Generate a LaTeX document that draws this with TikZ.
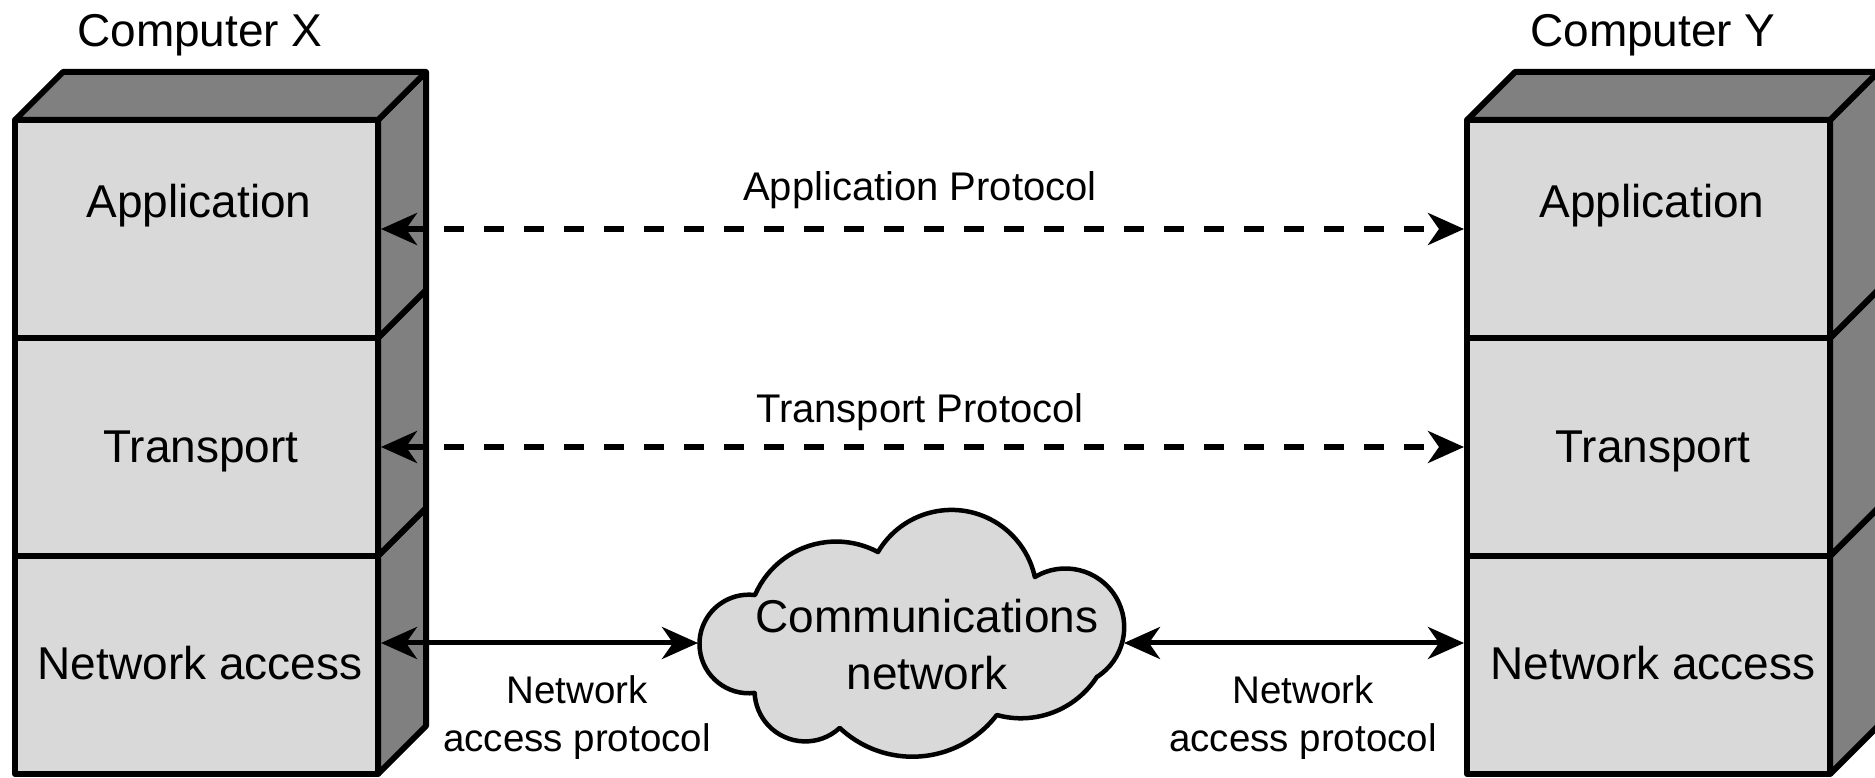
\documentclass[tikz,border=0pt]{standalone}
\usepackage{fontspec}
\setmainfont{Liberation Sans}
\usetikzlibrary{arrows.meta}

\definecolor{facegray}{RGB}{217,217,217}
\definecolor{sidegray}{RGB}{128,128,128}

\tikzset{
  face/.style={draw=black, fill=facegray, line width=6pt, line join=round,
    minimum width=363pt, minimum height=218pt, inner sep=0pt},
  shade3d/.style={draw=black, fill=sidegray, line width=6pt, line join=round},
  cloudline/.style={draw=black, fill=facegray, line width=4.5pt, line join=round},
  bigtext/.style={font=\fontsize{46}{52}\selectfont, anchor=base, inner sep=0pt},
  cloudtext/.style={font=\fontsize{46}{57}\selectfont, align=center, inner sep=0pt},
  protolabel/.style={font=\fontsize{40}{46}\selectfont, anchor=base, inner sep=0pt},
  smalllabel/.style={font=\fontsize{38.5}{48}\selectfont, align=center, inner sep=0pt},
  peer/.style={line width=5.5pt, dash pattern=on 20pt off 20pt, <->},
  link/.style={line width=5pt, <->},
}

% one protocol stack: three layers drawn as boxes seen slightly from above right
% #1 = left x of the front faces, #2 = name prefix
\newcommand{\layerstack}[2]{%
  \pgfmathsetmacro{\xa}{#1}%
  \pgfmathsetmacro{\xb}{#1+363}%
  \pgfmathsetmacro{\xc}{#1+363+48}%
  \foreach \yb/\yt in {3/221, 221/439, 439/657}{%
    \draw[shade3d] (\xb,\yb) -- (\xc,\yb+48) -- (\xc,\yt+48) -- (\xb,\yt) -- cycle;
  }%
  \draw[shade3d] (\xa,657) -- (\xa+48,705) -- (\xc,705) -- (\xb,657) -- cycle;
  \node[face] (#2app) at (\xa+181.5,548) {};
  \node[face] (#2tr)  at (\xa+181.5,330) {};
  \node[face] (#2net) at (\xa+181.5,112) {};
}

\begin{document}
\begin{tikzpicture}[x=1pt, y=1pt,
  >={Stealth[length=36pt, width=32pt, inset=11pt]}]
\useasboundingbox (0,0) rectangle (1875,777);

% the two computers
\layerstack{15}{x}
\layerstack{1467}{y}

\node[bigtext] (compX) at (200,730) {Computer X};
\node[bigtext] (compY) at (1653,730) {Computer Y};

\node[bigtext] (xappT) at (199,559) {Application};
\node[bigtext] (yappT) at (1652,559) {Application};
\node[bigtext] (xtrT)  at (201,314) {Transport};
\node[bigtext] (ytrT)  at (1653,314) {Transport};
\node[bigtext] (xnetT) at (200,97)  {Network access};
\node[bigtext] (ynetT) at (1653,97) {Network access};

% communications network cloud
\draw[cloudline] (755,182)
  arc[start angle=156.7, end angle=61.8,   radius=88.4pt]
  arc[start angle=149.6, end angle=12.3,   radius=85.3pt]
  arc[start angle=121.3, end angle=-57.7,  radius=58.8pt]
  arc[start angle=-32.9, end angle=-105.5, radius=90.4pt]
  arc[start angle=-37.4, end angle=-133.2, radius=106.2pt]
  arc[start angle=-47.2, end angle=-177.5, radius=50.7pt]
  arc[start angle=276.8, end angle=83.2,   radius=49.3pt]
  -- cycle;
\node[cloudtext] (net) at (927,132) {Communications\\network};
\coordinate (cloudW) at (698,134);
\coordinate (cloudE) at (1124,134);

% peer protocols
\draw[peer] (xapp.east) -- (yapp.west);
\draw[peer] (xtr.east) -- (ytr.west);
\node[protolabel] (appP) at (920,576) {Application Protocol};
\node[protolabel] (trP)  at (920,354) {Transport Protocol};

% network access links
\draw[link] (xnet.east |- cloudW) -- (cloudW);
\draw[link] (cloudE) -- (ynet.west |- cloudE);
\node[smalllabel] (naL) at (577,59)  {Network\\access protocol};
\node[smalllabel] (naR) at (1303,59) {Network\\access protocol};
\end{tikzpicture}
\end{document}
